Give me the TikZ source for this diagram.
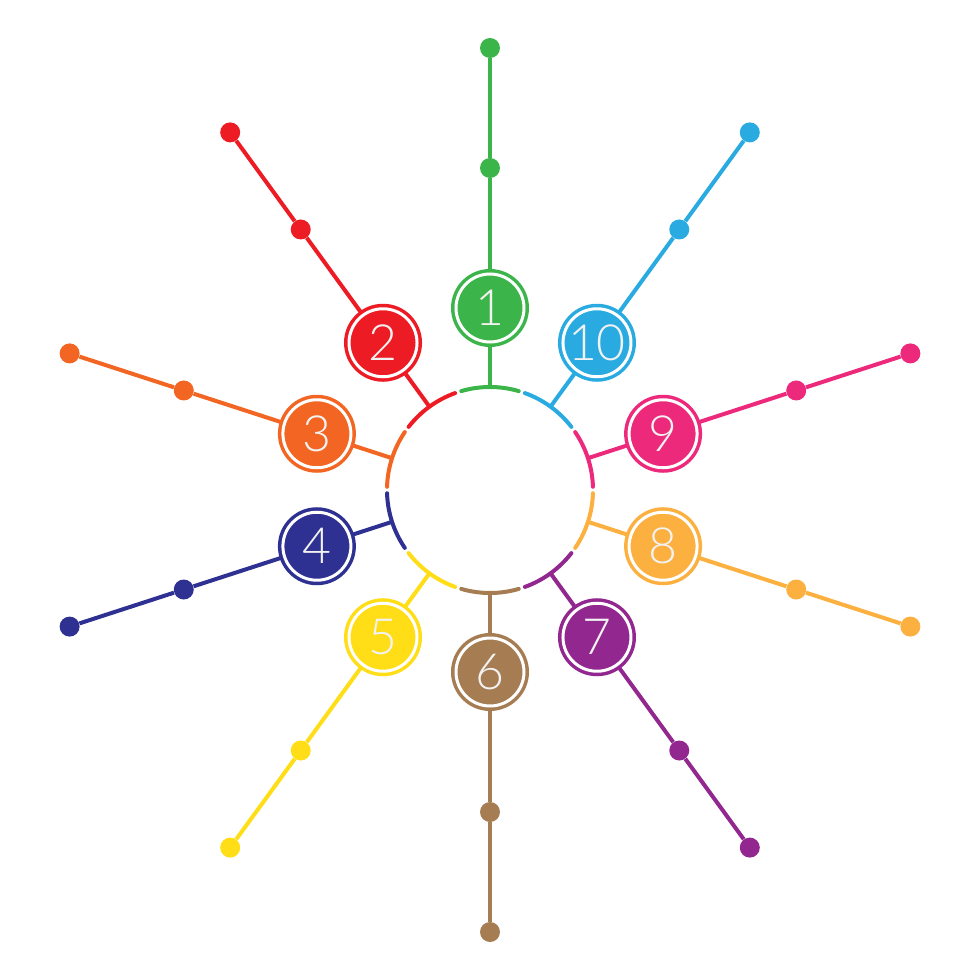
\documentclass[tikz,border=0pt]{standalone}
\usepackage{fontspec}
\newfontfamily\numfont{Lato Light}
\definecolor{cA}{HTML}{3BB54A}
\definecolor{cB}{HTML}{ED1C24}
\definecolor{cC}{HTML}{F26522}
\definecolor{cD}{HTML}{2E3192}
\definecolor{cE}{HTML}{FFDE17}
\definecolor{cF}{HTML}{A67C52}
\definecolor{cG}{HTML}{92278F}
\definecolor{cH}{HTML}{FBB040}
\definecolor{cI}{HTML}{EC297B}
\definecolor{cJ}{HTML}{29ABE2}
\definecolor{numtext}{HTML}{F2F2F2}
\pgfdeclarelayer{bg}
\pgfsetlayers{bg,main}
\tikzset{
  numbox/.style={circle, inner sep=0pt, minimum size=68*0.025cm, fill=#1, draw=#1,
    line width=3.5*0.025cm, double=white, double distance=3*0.025cm,
    text=numtext, font=\numfont\fontsize{35.5}{36}\selectfont},
  dotnode/.style={circle, inner sep=0pt, minimum size=20*0.025cm, fill=#1},
  spoke/.style={draw=#1, line width=4*0.025cm},
  ringarc/.style={draw=#1, line width=4*0.025cm, line cap=round}
}
\begin{document}
\begin{tikzpicture}[x=0.025cm, y=0.025cm]
\useasboundingbox (-490,-490) rectangle (490,490);
\foreach \n/\a/\c in {1/90/cA,2/126/cB,3/162/cC,4/198/cD,5/234/cE,6/270/cF,7/306/cG,8/342/cH,9/18/cI,10/54/cJ}{
  \draw[ringarc=\c] (\a-16.2:103) arc[start angle=\a-16.2, end angle=\a+16.2, radius=103];
  \coordinate (a\n) at (\a:103);
  \node[numbox=\c] (n\n) at (\a:182) {\n};
  \node[dotnode=\c] (m\n) at (\a:322) {};
  \node[dotnode=\c] (e\n) at (\a:442) {};
  \begin{pgfonlayer}{bg}
    \draw[spoke=\c] (a\n) -- (n\n);
    \draw[spoke=\c] (n\n) -- (m\n) -- (e\n);
  \end{pgfonlayer}
}
\end{tikzpicture}
\end{document}
